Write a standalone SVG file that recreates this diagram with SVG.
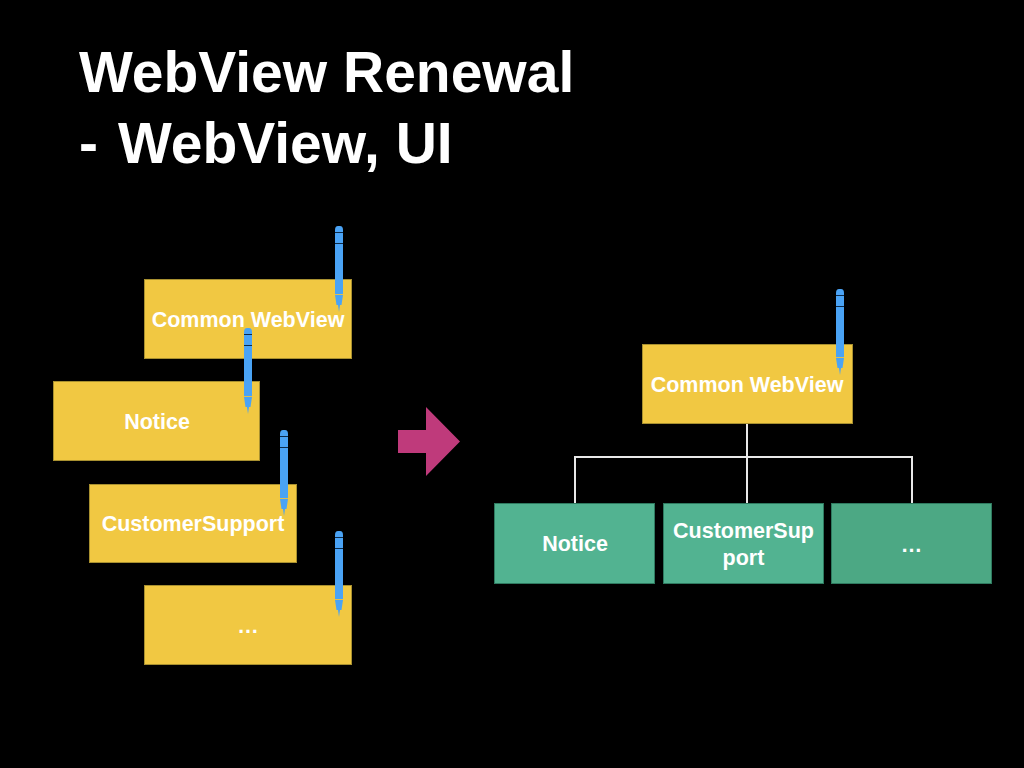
<svg xmlns="http://www.w3.org/2000/svg" width="1024" height="768" viewBox="0 0 1024 768">
<style>
text{font-family:"Liberation Sans",Arial,sans-serif;fill:#fff;font-weight:bold;text-anchor:middle}
.t{font-size:57px;text-anchor:start}
.l{font-size:21.500px}
.y{fill:#f1c842;stroke:#a89030;stroke-width:1}
.g{fill:#52b391;stroke:#2f7a60;stroke-width:1}
.c{fill:none;stroke:#e8e8e8;stroke-width:2}
</style>
<defs>
<g id="pencil">
<path d="M-4 1Q-4-3-1-3H1Q4-3 4 1V65H-4Z" fill="#4aa3f5"/>
<path d="M-4 3.500H4M-4 14.500H4" stroke="#0b2a4a" stroke-width="1"/>
<path d="M-4 65.500H4" stroke="#e0c050" stroke-width="1"/>
<path d="M-4 66H4L2.500 76H1L0 83L-1 76H-2.500Z" fill="#4aa3f5"/>
</g>
</defs>
<rect width="1024" height="768" fill="#000"/>
<text class="t" x="79" y="92">WebView Renewal</text>
<text class="t" x="79" y="163">-<tspan x="118">WebView, UI</tspan></text>
<g id="connectors">
<path class="c" d="M747 424V457M575 503V457H912V503M747 457V503"/>
</g>
<g id="arrow"><path d="M398 430H426V407L460 441.500L426 476V453H398Z" fill="#bf3a7b"/></g>
<g id="left-common"><rect class="y" x="144.500" y="279.500" width="207" height="79"/><text class="l" x="248" y="327">Common WebView</text><use href="#pencil" x="339" y="229"/></g>
<g id="left-notice"><rect class="y" x="53.500" y="381.500" width="206" height="79"/><text class="l" x="157" y="429">Notice</text><use href="#pencil" x="248" y="331"/></g>
<g id="left-support"><rect class="y" x="89.500" y="484.500" width="207" height="78"/><text class="l" x="193" y="531">CustomerSupport</text><use href="#pencil" x="284" y="433"/></g>
<g id="left-more"><rect class="y" x="144.500" y="585.500" width="207" height="79"/><text class="l" x="248" y="633">…</text><use href="#pencil" x="339" y="534"/></g>
<g id="right-common"><rect class="y" x="642.500" y="344.500" width="210" height="79"/><text class="l" x="747" y="392">Common WebView</text><use href="#pencil" x="840" y="292"/></g>
<g id="right-notice"><rect class="g" x="494.500" y="503.500" width="160" height="80"/><text class="l" x="575" y="551">Notice</text></g>
<g id="right-support"><rect class="g" x="663.500" y="503.500" width="160" height="80"/><text class="l" x="743.500" y="538">CustomerSup</text><text class="l" x="743.500" y="565">port</text></g>
<g id="right-more"><rect x="831.500" y="503.500" width="160" height="80" fill="#4ca884" stroke="#2f7a60"/><text class="l" x="911.500" y="552">…</text></g>
</svg>
